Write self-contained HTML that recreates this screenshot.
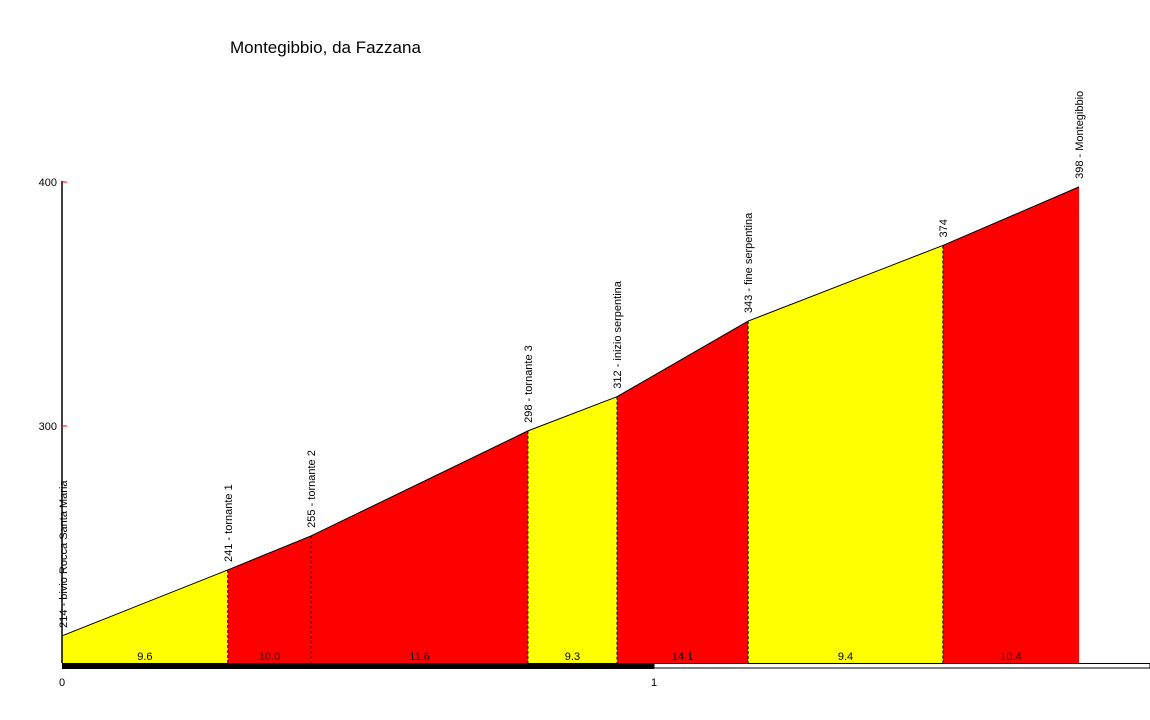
<!DOCTYPE html>
<html><head><meta charset="utf-8"><style>
html,body{margin:0;padding:0;background:#fff;}
svg{display:block;font-family:"Liberation Sans",sans-serif;}
</style></head><body>
<svg id="c" width="1150" height="720">
<text x="230" y="53" font-size="17">Montegibbio, da Fazzana</text>
</svg>
<script>
const dist = [0, 0.280, 0.421, 0.787, 0.9375, 1.159, 1.488, 1.718];
const elev = [214, 241, 255, 298, 312, 343, 374, 398];
const names = ["214 - bivio Rocca Santa Maria","241 - tornante 1","255 - tornante 2","298 - tornante 3","312 - inizio serpentina","343 - fine serpentina","374","398 - Montegibbio"];
const grades = ["9.6","10.0","11.6","9.3","14.1","9.4","10.4"];
const segColors = ["#ffff00","#ff0000","#ff0000","#ffff00","#ff0000","#ffff00","#ff0000"];
const yTicks = [300, 400];
const xTicks = [0, 1];
const ns="http://www.w3.org/2000/svg";
const svg=document.getElementById('c');
const X=d=>62+d*592;
const Y=e=>426-(e-300)*2.44;
const BASE=663;
function mk(t,a){const e=document.createElementNS(ns,t);for(const k in a)e.setAttribute(k,a[k]);svg.appendChild(e);return e;}
for(let i=0;i<dist.length-1;i++){
  const p=mk('polygon',{points:`${X(dist[i])},${BASE} ${X(dist[i])},${Y(elev[i])} ${X(dist[i+1])},${Y(elev[i+1])} ${X(dist[i+1])},${BASE}`,fill:segColors[i]});
  
  
  const t=mk('text',{x:(X(dist[i])+X(dist[i+1]))/2,y:BASE-3,'font-size':11,'text-anchor':'middle'});
  t.textContent=grades[i];
  
  
}
for(let i=1;i<dist.length-1;i++){
  const l=mk('line',{x1:X(dist[i]),y1:Y(elev[i]),x2:X(dist[i]),y2:BASE,stroke:'#000','stroke-dasharray':'3,2','stroke-width':1});
  
  
}
const pl=mk('polyline',{points:dist.map((d,i)=>X(d)+','+Y(elev[i])).join(' '),fill:'none',stroke:'#000','stroke-width':1});


dist.forEach((d,i)=>{
  const x=X(d)+(i===0?5:4), y=Y(elev[i])-8;
  const t=mk('text',{x:x,y:y,'font-size':11,transform:`rotate(-90 ${x} ${y})`});
  t.textContent=names[i];
  
  
});
const ax=mk('line',{x1:62,y1:181,x2:62,y2:BASE,stroke:'#000','stroke-width':1.5});


yTicks.forEach(v=>{
  const tk=mk('line',{x1:62,y1:Y(v),x2:67,y2:Y(v),stroke:'#ff0000'});
  
  
  const t=mk('text',{x:57,y:Y(v)+4,'font-size':11,'text-anchor':'end'});
  t.textContent=v;
  
  
});
const wb=mk('rect',{x:X(1),y:663.5,width:1150-X(1),height:4.5,fill:'#fff',stroke:'#000','stroke-width':1});


const bb=mk('rect',{x:X(0),y:663,width:X(1)-X(0),height:6,fill:'#000'});


xTicks.forEach(v=>{
  const t=mk('text',{x:X(v),y:686,'font-size':11,'text-anchor':'middle'});
  t.textContent=v;
  
  
});
</script>
</body></html>
